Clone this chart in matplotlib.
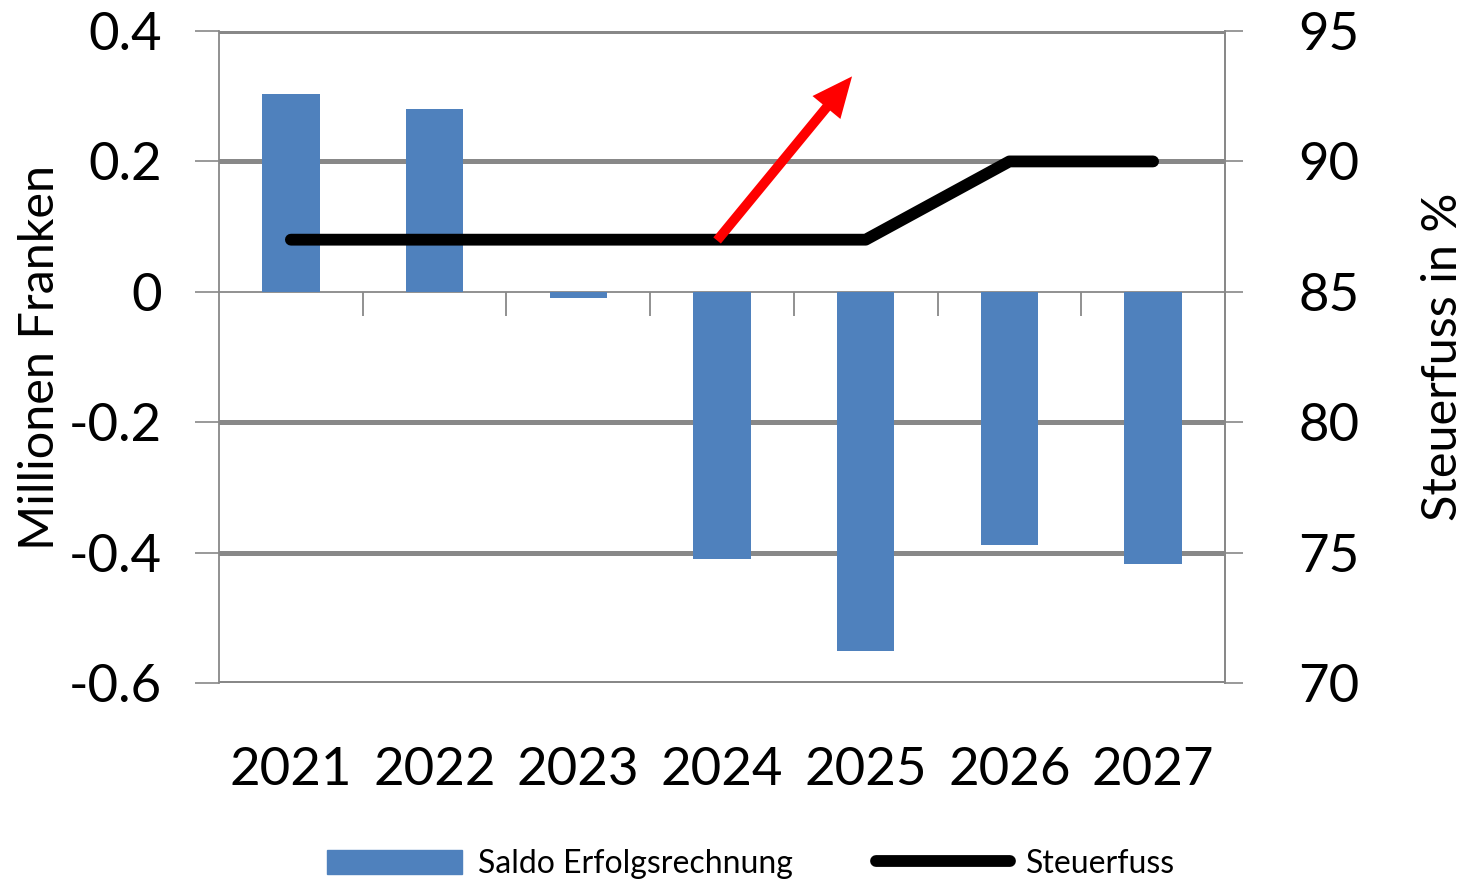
import matplotlib
matplotlib.use("Agg")
import matplotlib.pyplot as plt
import numpy as np

years = ["2021", "2022", "2023", "2024", "2025", "2026", "2027"]
saldo = [0.303, 0.280, -0.009, -0.410, -0.550, -0.388, -0.418]  # Mio. Fr.
steuerfuss = [87, 87, 87, 87, 87, 90, 90]  # in %
left_ticks = [-0.6, -0.4, -0.2, 0, 0.2, 0.4]
right_ticks = [70, 75, 80, 85, 90, 95]
# red arrow (x in category units, y on the Steuerfuss axis)
arrow_from = (2.966, 86.97)
arrow_to = (3.905, 93.26)

plt.rcParams['font.family'] = ['Lato', 'DejaVu Sans']
plt.rcParams['axes.unicode_minus'] = False

blue = "#4F81BD"
grey = "#888888"

fig = plt.figure(figsize=(14.67, 8.86), dpi=100)
ax = fig.add_axes([0.1493, 0.229, 0.6857, 0.736])
x = np.arange(len(years))

ax.bar(x, saldo, width=0.40, color=blue, zorder=3)
ax.set_xlim(-0.5, len(years) - 0.5)
ax.set_ylim(-0.6, 0.4)
ax.set_yticks(left_ticks)
ax.set_yticklabels(["{:g}".format(t) for t in left_ticks])
ax.set_xticks(x)
ax.set_xticklabels(years)
ax.tick_params(axis='x', length=0, pad=46, labelsize=38)
ax.tick_params(axis='y', length=17, width=1.2, color=grey, pad=24, labelsize=38)

ax.grid(axis='y', color=grey, lw=3.6, zorder=1)
for t in ax.yaxis.get_major_ticks():
    if abs(t.get_loc()) < 1e-9:
        t.gridline.set_visible(False)
ax.axhline(0, color=grey, lw=1.3, zorder=2)
# tick marks between the categories below the zero line
ax.vlines(np.arange(0.5, len(years) - 0.5), -0.037, 0, color=grey, lw=1.3, zorder=2)

for s in ["top", "bottom"]:
    ax.spines[s].set_visible(False)
for s in ["left", "right"]:
    ax.spines[s].set_color(grey)
    ax.spines[s].set_linewidth(1.3)
ax.set_ylabel("Millionen Franken", fontsize=35, labelpad=5)

ax2 = ax.twinx()
ax2.plot(x, steuerfuss, color="black", lw=8.5, solid_capstyle='round',
         solid_joinstyle='round', zorder=4)
ax2.set_ylim(70, 95)
ax2.set_yticks(right_ticks)
ax2.tick_params(axis='y', length=13, width=1.2, color=grey, pad=40, labelsize=38)
for s in ["top", "bottom", "left"]:
    ax2.spines[s].set_visible(False)
ax2.spines["right"].set_color(grey)
ax2.spines["right"].set_linewidth(1.3)
ax2.set_ylabel("Steuerfuss in %", fontsize=35, labelpad=44)

ax2.annotate("", xy=arrow_to, xytext=arrow_from,
             arrowprops=dict(facecolor="red", edgecolor="none", width=7,
                             headwidth=26, headlength=29, shrink=0),
             zorder=5)

handles = [plt.Rectangle((0, 0), 1, 1, color=blue),
           plt.Line2D([0], [0], color="black", lw=8.5, solid_capstyle='round')]
fig.legend(handles, ["Saldo Erfolgsrechnung", "Steuerfuss"], loc="center",
           bbox_to_anchor=(0.512, 0.025), ncol=2, frameon=False, fontsize=23,
           handlelength=4.2, handleheight=0.8, columnspacing=2.6, handletextpad=0.5)

fig.savefig("out.png", dpi=100)
